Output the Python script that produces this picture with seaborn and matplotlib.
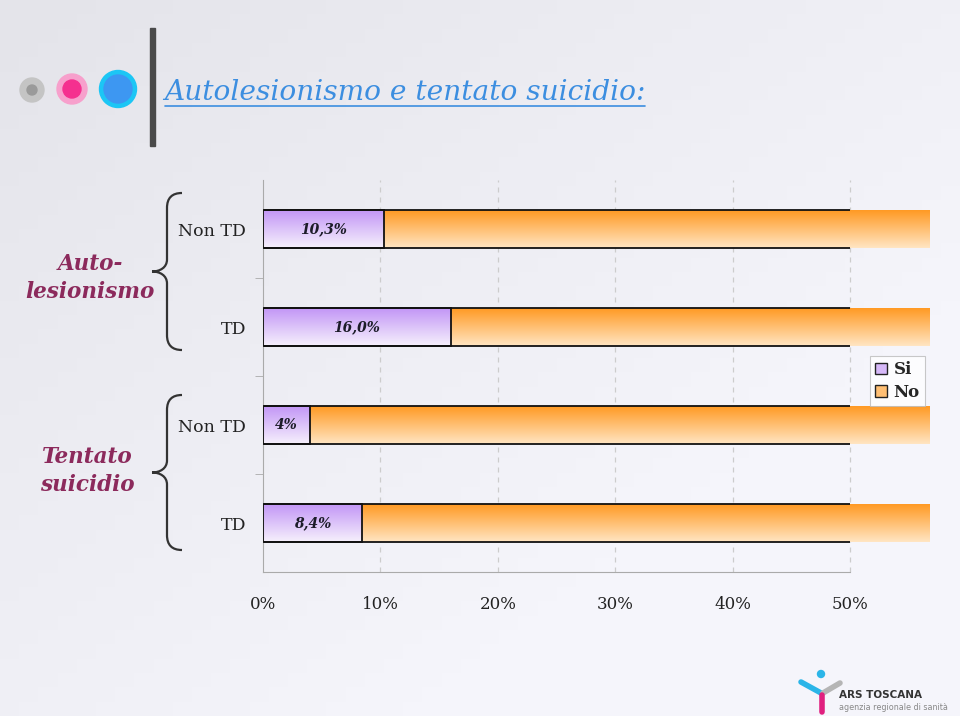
import numpy as np
import pandas as pd
import matplotlib
matplotlib.use("Agg")
import matplotlib.pyplot as plt
import seaborn as sns
from matplotlib.patches import Rectangle, Ellipse, Patch, PathPatch
from matplotlib.path import Path
from matplotlib.colors import LinearSegmentedColormap

# --- dati ---
row_ids = ["auto_non", "auto_td", "tent_non", "tent_td"]
row_labels = ["Non TD", "TD", "Non TD", "TD"]
si_values = [10.3, 16.0, 4.0, 8.4]
si_text = ["10,3%", "16,0%", "4%", "8,4%"]
total_values = [100, 100, 100, 100]
group_labels = ["Auto-\nlesionismo", "Tentato\nsuicidio"]
xticks = [0, 10, 20, 30, 40, 50]
xtick_labels = ["0%", "10%", "20%", "30%", "40%", "50%"]
legend_labels = ["Si", "No"]
title = "Autolesionismo e tentato suicidio:"

W, H = 960, 716
SERIF = "DejaVu Serif"
PURPLE = ("#c194f6", "#f6f0fc")
ORANGE = ("#ff9820", "#ffe5c2")
XMAX = 56.8  # la barra arancione esce oltre il 50%


def fx(x):
    return x / W


def fy(y):
    return 1 - y / H


def gradient_fill(ax, patch, colors, xmax=None):
    cmap = LinearSegmentedColormap.from_list("g", list(colors))
    x0, y0 = patch.get_x(), patch.get_y()
    x1 = x0 + patch.get_width()
    if xmax is not None:
        x1 = min(x1, xmax)
    h = patch.get_height()
    grad = np.linspace(0, 1, 64).reshape(-1, 1)
    im = ax.imshow(grad, cmap=cmap, aspect="auto", origin="upper",
                   extent=(x0, x1, y0 + h, y0), zorder=1, interpolation="bilinear")
    im.set_clip_path(patch)


def brace(fig, top, bot, x_tip=182, x_mid=167, x_pt=152):
    mid = (top + bot) / 2
    pts = [
        (x_tip, top), (x_tip - 10, top), (x_mid, top + 5), (x_mid, top + 15),
        (x_mid, mid - 12),
        (x_mid, mid - 4), (x_pt + 8, mid), (x_pt, mid),
        (x_pt + 8, mid), (x_mid, mid + 4), (x_mid, mid + 12),
        (x_mid, bot - 15),
        (x_mid, bot - 5), (x_tip - 10, bot), (x_tip, bot),
    ]
    codes = [Path.MOVETO, Path.CURVE4, Path.CURVE4, Path.CURVE4, Path.LINETO,
             Path.CURVE4, Path.CURVE4, Path.CURVE4,
             Path.CURVE4, Path.CURVE4, Path.CURVE4, Path.LINETO,
             Path.CURVE4, Path.CURVE4, Path.CURVE4]
    path = Path([(fx(a), fy(b)) for a, b in pts], codes)
    fig.add_artist(PathPatch(path, transform=fig.transFigure, fill=False,
                             edgecolor="#333333", lw=1.6))


def main() -> None:
    sns.set_style("white")
    fig = plt.figure(figsize=(9.6, 7.16), dpi=100)

    # sfondo sfumato (piu' scuro in alto a sinistra)
    bg = fig.add_axes([0, 0, 1, 1], zorder=-10)
    yy, xx = np.mgrid[0:1:50j, 0:1:50j]
    bg.imshow(np.clip(0.7 * xx + 0.7 * yy, 0, 1),
              cmap=LinearSegmentedColormap.from_list("bg", ["#e4e4ea", "#f5f5fb"]),
              aspect="auto", extent=(0, 1, 0, 1))
    bg.axis("off")

    # decorazioni titolo
    for (cx, cy, d_out, d_in, c_out, c_in) in [
        (32, 90, 24, 10, "#c4c4c4", "#9a9a9a"),
        (72, 89, 30, 18, "#f7a0cc", "#f5308f"),
        (118, 89, 37, 28, "#1cc6f5", "#3d97f2"),
    ]:
        fig.add_artist(Ellipse((fx(cx), fy(cy)), d_out / W, d_out / H,
                               transform=fig.transFigure, color=c_out))
        fig.add_artist(Ellipse((fx(cx), fy(cy)), d_in / W, d_in / H,
                               transform=fig.transFigure, color=c_in))
    fig.add_artist(Rectangle((fx(150), fy(146)), 5 / W, 118 / H,
                             transform=fig.transFigure, color="#4a4a4a"))
    fig.text(fx(164), fy(92), title, family=SERIF, style="italic",
             fontsize=20.2, color="#3c8ee0", va="center", ha="left")
    fig.add_artist(plt.Line2D([fx(165), fx(645)], [fy(106), fy(106)],
                              transform=fig.transFigure, color="#3c8ee0", lw=1.2))

    # grafico
    ax = fig.add_axes([fx(263), fy(572), fx(930) - fx(263), (572 - 180) / H])
    ax.patch.set_alpha(0)
    df = pd.DataFrame({"row": row_ids, "si": si_values, "tot": total_values})
    sns.barplot(data=df, x="tot", y="row", orient="h", width=0.39, ax=ax,
                color=ORANGE[0])
    n_no = len(ax.patches)
    sns.barplot(data=df, x="si", y="row", orient="h", width=0.39, ax=ax,
                color=PURPLE[0])
    no_bars = ax.patches[:n_no]
    si_bars = ax.patches[n_no:]

    clip50 = Rectangle((0, -0.5), 50, 4, transform=ax.transData)
    for p in no_bars:
        gradient_fill(ax, p, ORANGE, xmax=XMAX)
        p.set_facecolor("none")
        p.set_edgecolor("#111111")
        p.set_linewidth(1.3)
        p.set_zorder(2)
        p.set_clip_path(clip50)
    for p, txt in zip(si_bars, si_text):
        gradient_fill(ax, p, PURPLE)
        p.set_facecolor("none")
        p.set_edgecolor("#111111")
        p.set_linewidth(1.3)
        p.set_zorder(3)
        ax.text(p.get_x() + p.get_width() / 2, p.get_y() + p.get_height() / 2,
                txt, ha="center", va="center", family=SERIF, style="italic",
                weight="bold", fontsize=10, color="#1c1c28", zorder=4)

    ax.set_xlim(0, XMAX)
    ax.set_ylim(3.5, -0.5)
    ax.set_xlabel("")
    ax.set_ylabel("")

    for x in xticks[1:]:
        ax.axvline(x, color="#cccccc", lw=0.9, ls=(0, (4, 4)), zorder=0)

    ax.set_xticks(xticks)
    ax.set_xticklabels(xtick_labels, family=SERIF, fontsize=12, color="#222222")
    ax.set_yticks(range(len(row_labels)))
    ax.set_yticklabels(row_labels, family=SERIF, fontsize=12.5, color="#222222")
    ax.set_yticks([0.5, 1.5, 2.5], minor=True)
    ax.tick_params(axis="y", which="major", length=0, pad=12)
    ax.tick_params(axis="y", which="minor", length=6, color="#aaaaaa", left=True)
    ax.tick_params(axis="x", length=7, direction="inout", color="#aaaaaa", pad=14)
    for s in ["top", "right"]:
        ax.spines[s].set_visible(False)
    ax.spines["bottom"].set_bounds(0, 50)
    ax.spines["bottom"].set_color("#aaaaaa")
    ax.spines["left"].set_color("#aaaaaa")

    # legenda
    handles = [Patch(facecolor="#d6b8f8", edgecolor="#222222"),
               Patch(facecolor="#ffbf74", edgecolor="#222222")]
    leg = fig.legend(handles, legend_labels, loc="upper left",
                     bbox_to_anchor=(fx(862), fy(348)), frameon=True,
                     fancybox=False, handlelength=0.7, handleheight=0.7,
                     handletextpad=0.4, borderpad=0.3, labelspacing=0.35,
                     prop={"family": SERIF, "weight": "bold", "size": 12})
    leg.get_frame().set_edgecolor("#bbbbbb")
    leg.get_frame().set_linewidth(0.8)

    # gruppi con parentesi graffe
    brace(fig, 193, 350)
    brace(fig, 395, 550)
    fig.text(fx(90), fy(278), group_labels[0], ha="center", va="center",
             family=SERIF, style="italic", weight="bold", fontsize=15.5,
             color="#8c2a5c", linespacing=1.3)
    fig.text(fx(87), fy(471), group_labels[1], ha="center", va="center",
             family=SERIF, style="italic", weight="bold", fontsize=15.5,
             color="#8c2a5c", linespacing=1.3)

    # logo
    fig.add_artist(plt.Line2D([fx(801), fx(821)], [fy(682), fy(693)],
                              transform=fig.transFigure, color="#2bb5e8", lw=4,
                              solid_capstyle="round"))
    fig.add_artist(plt.Line2D([fx(823), fx(840)], [fy(693), fy(683)],
                              transform=fig.transFigure, color="#b5b5b5", lw=4,
                              solid_capstyle="round"))
    fig.add_artist(plt.Line2D([fx(822), fx(822)], [fy(695), fy(712)],
                              transform=fig.transFigure, color="#e0207f", lw=4))
    fig.add_artist(Ellipse((fx(821), fy(674)), 7 / W, 7 / H,
                           transform=fig.transFigure, color="#2bb5e8"))
    fig.text(fx(839), fy(695), "ARS TOSCANA", fontsize=7.5, weight="bold",
             color="#333333", va="center", family="DejaVu Sans")
    fig.text(fx(839), fy(707), "agenzia regionale di sanità", fontsize=5.8,
             color="#888888", va="center", family="DejaVu Sans")

    fig.savefig("out.png", dpi=100)
    plt.close(fig)


if __name__ == "__main__":
    main()
